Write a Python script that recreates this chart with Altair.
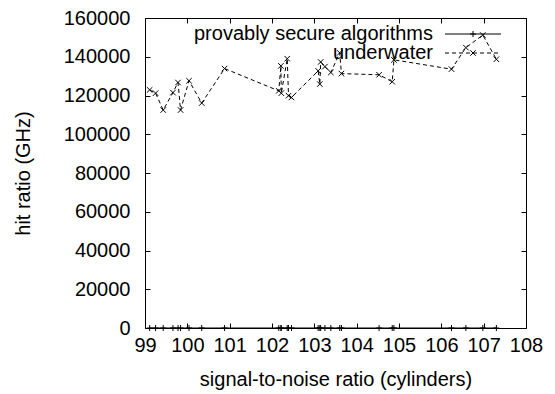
import altair as alt
import pandas as pd

# ---- data ----
underwater_x = [99.11, 99.25, 99.43, 99.66, 99.78, 99.84, 100.04, 100.34, 100.88,
                102.16, 102.21, 102.22, 102.36, 102.39, 102.46,
                103.09, 103.13, 103.15, 103.25, 103.39, 103.60, 103.64,
                104.53, 104.84, 104.88, 106.24, 106.58, 106.98, 107.30]
underwater_y = [122900, 121200, 112500, 121500, 126700, 112500, 127600, 116100, 133900,
                122400, 135300, 121200, 139000, 119900, 119000,
                132700, 125900, 137300, 134900, 131900, 142000, 131300,
                130700, 127100, 138400, 133600, 144700, 151200, 138700]
provably_x = underwater_x
provably_y = [0] * len(provably_x)

series_names = ["provably secure algorithms", "underwater"]
x_ticks = list(range(99, 109))
y_ticks = list(range(0, 160001, 20000))

FONT = "Liberation Sans"
FS = 20
PLUS = "M-1,0L1,0M0,-1L0,1"
CROSS = "M-1,-1L1,1M-1,1L1,-1"

uw = pd.DataFrame({"x": underwater_x, "y": underwater_y, "i": range(len(underwater_x))})
pv = pd.DataFrame({"x": provably_x, "y": provably_y, "i": range(len(provably_x))})

xscale = alt.Scale(domain=[99, 108], nice=False, zero=False)
yscale = alt.Scale(domain=[0, 160000], nice=False)

main_axis_x = alt.Axis(values=x_ticks, offset=-5, tickSize=5, domain=False, grid=False,
                       labelPadding=7, title="signal-to-noise ratio (cylinders)",
                       titlePadding=14, labelFlush=False)
main_axis_y = alt.Axis(values=y_ticks, offset=-5, tickSize=5, domain=False, grid=False,
                       labelPadding=15, title="hit ratio (GHz)", titlePadding=30,
                       format="d", labelFlush=False)

uw_line = alt.Chart(uw).mark_line(color="black", strokeWidth=1, strokeDash=[4, 3]).encode(
    x=alt.X("x:Q", scale=xscale, axis=main_axis_x),
    y=alt.Y("y:Q", scale=yscale, axis=main_axis_y),
    order="i:Q",
)
uw_pts = alt.Chart(uw).mark_point(shape=CROSS, size=30, color="black", strokeWidth=1,
                                  filled=False, opacity=1).encode(
    x=alt.X("x:Q", scale=xscale, axis=None),
    y=alt.Y("y:Q", scale=yscale, axis=None),
)
pv_line = alt.Chart(pv).mark_line(color="black", strokeWidth=1).encode(
    x=alt.X("x:Q", scale=xscale, axis=None),
    y=alt.Y("y:Q", scale=yscale, axis=None),
    order="i:Q",
)
pv_pts = alt.Chart(pv).mark_point(shape=PLUS, size=36, color="black", strokeWidth=1,
                                  filled=False, opacity=1, clip=False).encode(
    x=alt.X("x:Q", scale=xscale, axis=None),
    y=alt.Y("y:Q", scale=yscale, axis=None),
)
# mirror ticks on top and right
mirror = alt.Chart(pv).mark_point(opacity=0).encode(
    x=alt.X("x:Q", scale=xscale, axis=alt.Axis(orient="top", values=x_ticks, offset=-5, tickSize=5,
                                               labels=False, domain=False, grid=False, title=None)),
    y=alt.Y("y:Q", scale=yscale, axis=alt.Axis(orient="right", values=y_ticks, offset=-5, tickSize=5,
                                               labels=False, domain=False, grid=False, title=None)),
)

plot = alt.layer(uw_line, uw_pts, pv_line, pv_pts, mirror).resolve_axis(x="independent", y="independent")

# legend (gnuplot style: text right-aligned, sample to the right)
leg_df = pd.DataFrame({"label": series_names})
leg1_txt = alt.Chart(leg_df.iloc[[0]]).mark_text(align="right", baseline="middle", font=FONT,
                                                  fontSize=FS, color="black").encode(
    x=alt.value(288), y=alt.value(16), text="label:N")
leg2_txt = alt.Chart(leg_df.iloc[[1]]).mark_text(align="right", baseline="middle", font=FONT,
                                                  fontSize=FS, color="black").encode(
    x=alt.value(288), y=alt.value(35), text="label:N")
leg1_line = alt.Chart(leg_df.iloc[[0]]).mark_rule(color="black", strokeWidth=1).encode(
    x=alt.value(300), x2=alt.value(356), y=alt.value(16))
leg2_line = alt.Chart(leg_df.iloc[[1]]).mark_rule(color="black", strokeWidth=1, strokeDash=[4, 3]).encode(
    x=alt.value(300), x2=alt.value(356), y=alt.value(35))
leg1_pt = alt.Chart(leg_df.iloc[[0]]).mark_point(shape=PLUS, size=36, color="black", strokeWidth=1,
                                                  filled=False, opacity=1).encode(
    x=alt.value(328), y=alt.value(16))
leg2_pt = alt.Chart(leg_df.iloc[[1]]).mark_point(shape=CROSS, size=30, color="black", strokeWidth=1,
                                                  filled=False, opacity=1).encode(
    x=alt.value(328), y=alt.value(35))

chart = alt.layer(plot, leg1_txt, leg2_txt, leg1_line, leg2_line, leg1_pt, leg2_pt).properties(
    width=381, height=310,
    padding={"left": 137, "top": 10, "right": 20, "bottom": 62},
    autosize=alt.AutoSizeParams(type="none"),
).configure_view(stroke="black", strokeWidth=1).configure_axis(
    labelFont=FONT, titleFont=FONT, labelFontSize=FS, titleFontSize=FS,
    labelColor="black", titleColor="black", tickColor="black", titleFontWeight="normal",
)

chart.save("out.html", embed_options={"renderer": "svg", "actions": False})
